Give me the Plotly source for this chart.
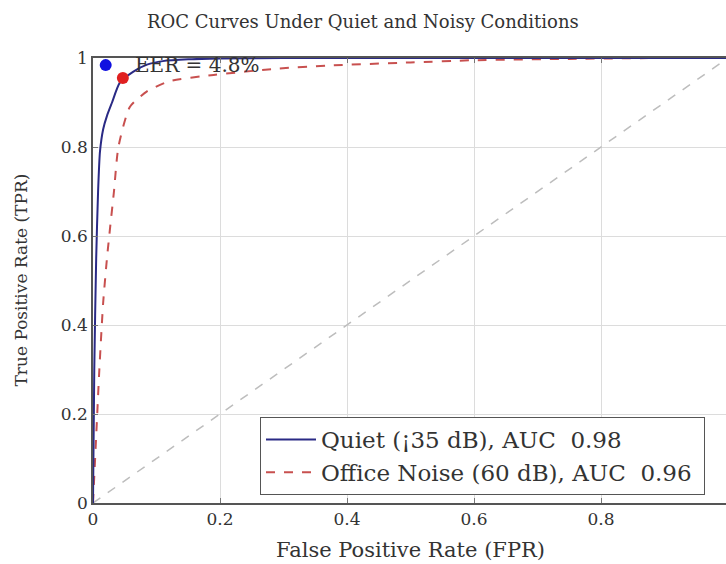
import plotly.graph_objects as go

# ---- data ----
quiet_fpr = [0, 0.002, 0.005, 0.008, 0.011, 0.016, 0.022, 0.03, 0.042, 0.063, 0.085, 0.11, 0.15, 0.2, 0.3, 0.5, 0.7, 1.0]
quiet_tpr = [0, 0.30, 0.55, 0.70, 0.79, 0.84, 0.87, 0.90, 0.944, 0.969, 0.985, 0.993, 0.997, 0.999, 1.0, 1.0, 1.0, 1.0]

noise_fpr = [0, 0.005, 0.010, 0.016, 0.022, 0.027, 0.033, 0.040, 0.058, 0.085, 0.121, 0.19, 0.29, 0.37, 0.5, 0.6, 0.75, 0.9, 1.0]
noise_tpr = [0, 0.15, 0.30, 0.45, 0.55, 0.62, 0.70, 0.80, 0.89, 0.925, 0.948, 0.962, 0.976, 0.983, 0.99, 0.995, 0.998, 1.0, 1.0]

chance_fpr = [0, 1]
chance_tpr = [0, 1]

eer_quiet = (0.02, 0.984)
eer_noise = (0.047, 0.955)
eer_label = "EER = 4.8%"

x_tick_vals = [0, 0.2, 0.4, 0.6, 0.8]
x_tick_text = ["0", "0.2", "0.4", "0.6", "0.8"]
y_tick_vals = [0, 0.2, 0.4, 0.6, 0.8, 1.0]
y_tick_text = ["0", "0.2", "0.4", "0.6", "0.8", "1"]

title_text = "ROC Curves Under Quiet and Noisy Conditions"
x_title = "False Positive Rate (FPR)"
y_title = "True Positive Rate (TPR)"
quiet_name = "Quiet (¡35 dB), AUC\u00a0\u00a00.98\u00a0"
noise_name = "Office Noise (60 dB), AUC\u00a0\u00a00.96\u00a0"

FONT = "DejaVu Serif"
TXT = "#333333"

VIEW_W = 726                 # visible window width
W, H = 740, 564              # figure is a bit wider; right part is cropped like the reference
L, R, T, B = 93, 12, 58, 61
PW = W - L - R
PH = H - T - B

fig = go.Figure()
fig.add_trace(go.Scatter(x=chance_fpr, y=chance_tpr, mode="lines",
                         line=dict(color="#bdbdbd", width=1.5, dash="dash"),
                         showlegend=False, hoverinfo="skip"))
fig.add_trace(go.Scatter(x=noise_fpr, y=noise_tpr, mode="lines", name=noise_name,
                         line=dict(color="#c8504f", width=2, dash="dash", shape="spline", smoothing=0.6)))
fig.add_trace(go.Scatter(x=quiet_fpr, y=quiet_tpr, mode="lines", name=quiet_name,
                         line=dict(color="#2a2a85", width=2, shape="spline", smoothing=0.6)))
fig.add_trace(go.Scatter(x=[eer_quiet[0]], y=[eer_quiet[1]], mode="markers",
                         marker=dict(color="#1010e0", size=12), showlegend=False))
fig.add_trace(go.Scatter(x=[eer_noise[0]], y=[eer_noise[1]], mode="markers",
                         marker=dict(color="#e02020", size=12), showlegend=False))

fig.add_annotation(x=0.063, y=eer_quiet[1], xref="x", yref="y", text=eer_label,
                   showarrow=False, xanchor="left", yanchor="middle",
                   font=dict(family=FONT, size=20, color=TXT))

# axis titles
fig.add_annotation(x=(410 - L) / PW, xref="paper", y=-(550 - (H - B)) / PH, yref="paper",
                   text=x_title, showarrow=False, xanchor="center", yanchor="middle",
                   font=dict(family=FONT, size=21, color=TXT))
fig.add_annotation(x=-(L - 20) / PW, xref="paper", y=0.5, yref="paper",
                   text=y_title, showarrow=False, textangle=-90,
                   xanchor="center", yanchor="middle",
                   font=dict(family=FONT, size=17, color=TXT))
# title centred on the visible window
fig.add_annotation(x=(VIEW_W / 2 - L) / PW, xref="paper", y=(H - B - 21) / PH, yref="paper",
                   text=title_text, showarrow=False, xanchor="center", yanchor="middle",
                   font=dict(family=FONT, size=18, color=TXT))

fig.update_layout(
    width=W, height=H,
    paper_bgcolor="white", plot_bgcolor="white",
    margin=dict(l=L, r=R, t=T, b=B, autoexpand=False),
    font=dict(family=FONT, size=17, color=TXT),
    legend=dict(x=(260 - L) / PW, y=((H - B) - 417) / PH, xanchor="left", yanchor="top",
                bgcolor="white", bordercolor="#555555", borderwidth=1,
                font=dict(family=FONT, size=23, color=TXT),
                traceorder="reversed", itemwidth=50, tracegroupgap=0),
    showlegend=True,
)

fig.update_xaxes(range=[0, 1.0], tickvals=x_tick_vals, ticktext=x_tick_text,
                 showgrid=True, gridcolor="#dcdcdc", gridwidth=1,
                 showline=True, linecolor="#555555", linewidth=1.5, mirror="ticks",
                 ticks="inside", ticklen=5, tickcolor="#777777",
                 zeroline=False, automargin=False,
                 tickfont=dict(family=FONT, size=17, color=TXT))
fig.update_yaxes(range=[0, 1.0], tickvals=y_tick_vals, ticktext=y_tick_text,
                 showgrid=True, gridcolor="#dcdcdc", gridwidth=1,
                 showline=True, linecolor="#555555", linewidth=1.5, mirror=False,
                 ticks="inside", ticklen=5, tickcolor="#777777",
                 zeroline=False, automargin=False,
                 tickfont=dict(family=FONT, size=17, color=TXT))

fig.write_html("out.html", config={"displayModeBar": False},
               post_script="document.body.style.margin='0';document.body.style.overflow='hidden';"
                           "document.documentElement.style.overflow='hidden';")
